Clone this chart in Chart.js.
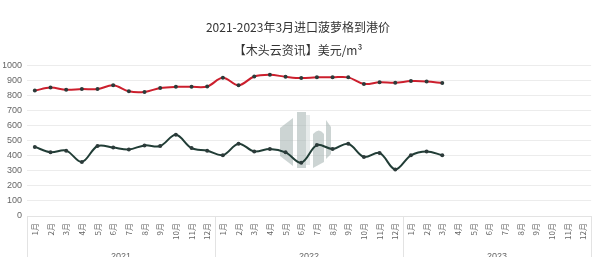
<!DOCTYPE html>
<html>
<head>
<meta charset="utf-8">
<script src="https://cdn.jsdelivr.net/npm/chart.js@4"></script>
<style>
  html, body { margin: 0; padding: 0; background: #fff; overflow: hidden; }
  #wrap { width: 600px; height: 266px; }
</style>
</head>
<body>
<div id="wrap"><canvas id="priceChart"></canvas></div>
<script>
// 月份 / 年份
const months = ['1月','2月','3月','4月','5月','6月','7月','8月','9月','10月','11月','12月'];
const years = ['2021', '2022', '2023'];
const labels = [...months, ...months, ...months];

// 两条价格线（美元/m³），2023年只到3月
const priceHigh = [835, 855, 840, 845, 845, 870, 830, 826, 852, 860, 860, 862,
                   920, 870, 929, 940, 927, 918, 923, 923, 923, 879, 890, 887,
                   898, 896, 885];
const priceLow = [460, 425, 435, 360, 466, 456, 443, 470, 466, 541, 452, 435,
                  405, 481, 430, 446, 424, 355, 472, 446, 481, 393, 420, 310,
                  404, 430, 405];

const yTicks = [0, 100, 200, 300, 400, 500, 600, 700, 800, 900, 1000];

// 浅灰色水印
const watermark = {
  id: 'watermark',
  beforeDatasetsDraw(chart) {
    const c = chart.ctx;
    const cx = 305;
    const top = 112, bot = 168;
    c.save();
    c.fillStyle = 'rgba(170,184,182,0.6)';
    // 左
    c.beginPath();
    c.moveTo(cx - 25, top + 16);
    c.lineTo(cx - 12, top + 6);
    c.lineTo(cx - 12, bot - 2);
    c.lineTo(cx - 25, bot - 12);
    c.closePath();
    c.fill();
    // 中
    c.fillRect(cx - 8, top, 9, bot - top);
    c.fillStyle = 'rgba(215,222,221,0.6)';
    c.fillRect(cx + 1, top + 3, 4, bot - top - 6);
    // 右
    c.fillStyle = 'rgba(170,184,182,0.6)';
    c.beginPath();
    c.moveTo(cx + 8, top + 22);
    c.quadraticCurveTo(cx + 14, top + 15, cx + 19, top + 22);
    c.lineTo(cx + 19, bot - 6);
    c.lineTo(cx + 8, bot);
    c.closePath();
    c.fill();
    c.beginPath();
    c.moveTo(cx + 21, top + 8);
    c.lineTo(cx + 26, top + 15);
    c.lineTo(cx + 26, bot - 14);
    c.lineTo(cx + 21, bot - 9);
    c.closePath();
    c.fill();
    c.restore();
  }
};

// 年份分隔线
const yearLines = {
  id: 'yearLines',
  afterDraw(chart) {
    const x = chart.scales.x;
    const c = chart.ctx;
    const step = (x.right - x.left) / labels.length;
    c.save();
    c.strokeStyle = '#e3e3e3';
    c.lineWidth = 1;
    for (let k = 0; k <= years.length; k++) {
      const px = Math.round(x.left + k * 12 * step) + 0.5;
      c.beginPath();
      c.moveTo(px, chart.chartArea.bottom);
      c.lineTo(px, chart.height);
      c.stroke();
    }
    c.restore();
  }
};

const ctx = document.getElementById('priceChart').getContext('2d');
new Chart(ctx, {
  type: 'line',
  data: {
    labels: labels,
    datasets: [
      {
        label: '高',
        data: priceHigh,
        borderColor: '#cc1f2d',
        borderWidth: 2,
        pointRadius: 2,
        pointBackgroundColor: '#2c3b3a',
        pointBorderWidth: 0,
        tension: 0.35,
        xAxisID: 'x'
      },
      {
        label: '低',
        data: priceLow,
        borderColor: '#213d36',
        borderWidth: 2,
        pointRadius: 2,
        pointBackgroundColor: '#2c3b3a',
        pointBorderWidth: 0,
        tension: 0.35,
        xAxisID: 'x'
      }
    ]
  },
  options: {
    responsive: true,
    maintainAspectRatio: false,
    animation: false,
    layout: { padding: { left: 3, right: 7, top: 0, bottom: 0 } },
    plugins: {
      legend: { display: false },
      tooltip: { enabled: false },
      title: {
        display: true,
        text: '2021-2023年3月进口菠萝格到港价',
        color: '#333',
        font: { size: 12, family: 'Noto Sans CJK SC', weight: 'normal' },
        padding: { top: 20, bottom: 0 }
      },
      subtitle: {
        display: true,
        text: '【木头云资讯】美元/m³',
        color: '#333',
        font: { size: 12, family: 'Noto Sans CJK SC', weight: 'normal' },
        padding: { top: 9, bottom: 8 }
      }
    },
    scales: {
      y: {
        min: 0,
        max: 1000,
        afterBuildTicks: (s) => { s.ticks = yTicks.map(v => ({ value: v })); },
        afterFit: (s) => { s.width = 24; },
        grid: { color: '#ececec', drawTicks: false },
        border: { display: false },
        ticks: {
          color: '#666',
          padding: 5,
          autoSkip: false,
          callback: (v) => String(v),
          font: { size: 9, family: 'Liberation Sans' }
        }
      },
      x: {
        weight: 0,
        offset: true,
        grid: { display: false, drawTicks: false },
        border: { display: true, color: '#e3e3e3' },
        afterFit: (s) => { s.height = 26; },
        ticks: {
          color: '#666',
          autoSkip: false,
          minRotation: 90,
          maxRotation: 90,
          padding: 7,
          font: { size: 8, family: 'Noto Sans CJK SC' }
        }
      },
      x2: {
        type: 'category',
        weight: 1,
        labels: years,
        position: 'bottom',
        offset: true,
        grid: { display: false, drawTicks: false },
        border: { display: false },
        afterFit: (s) => { s.height = 24; },
        ticks: {
          color: '#666',
          padding: 9,
          font: { size: 9, family: 'Liberation Sans' }
        }
      }
    }
  },
  plugins: [watermark, yearLines]
});
</script>
</body>
</html>
